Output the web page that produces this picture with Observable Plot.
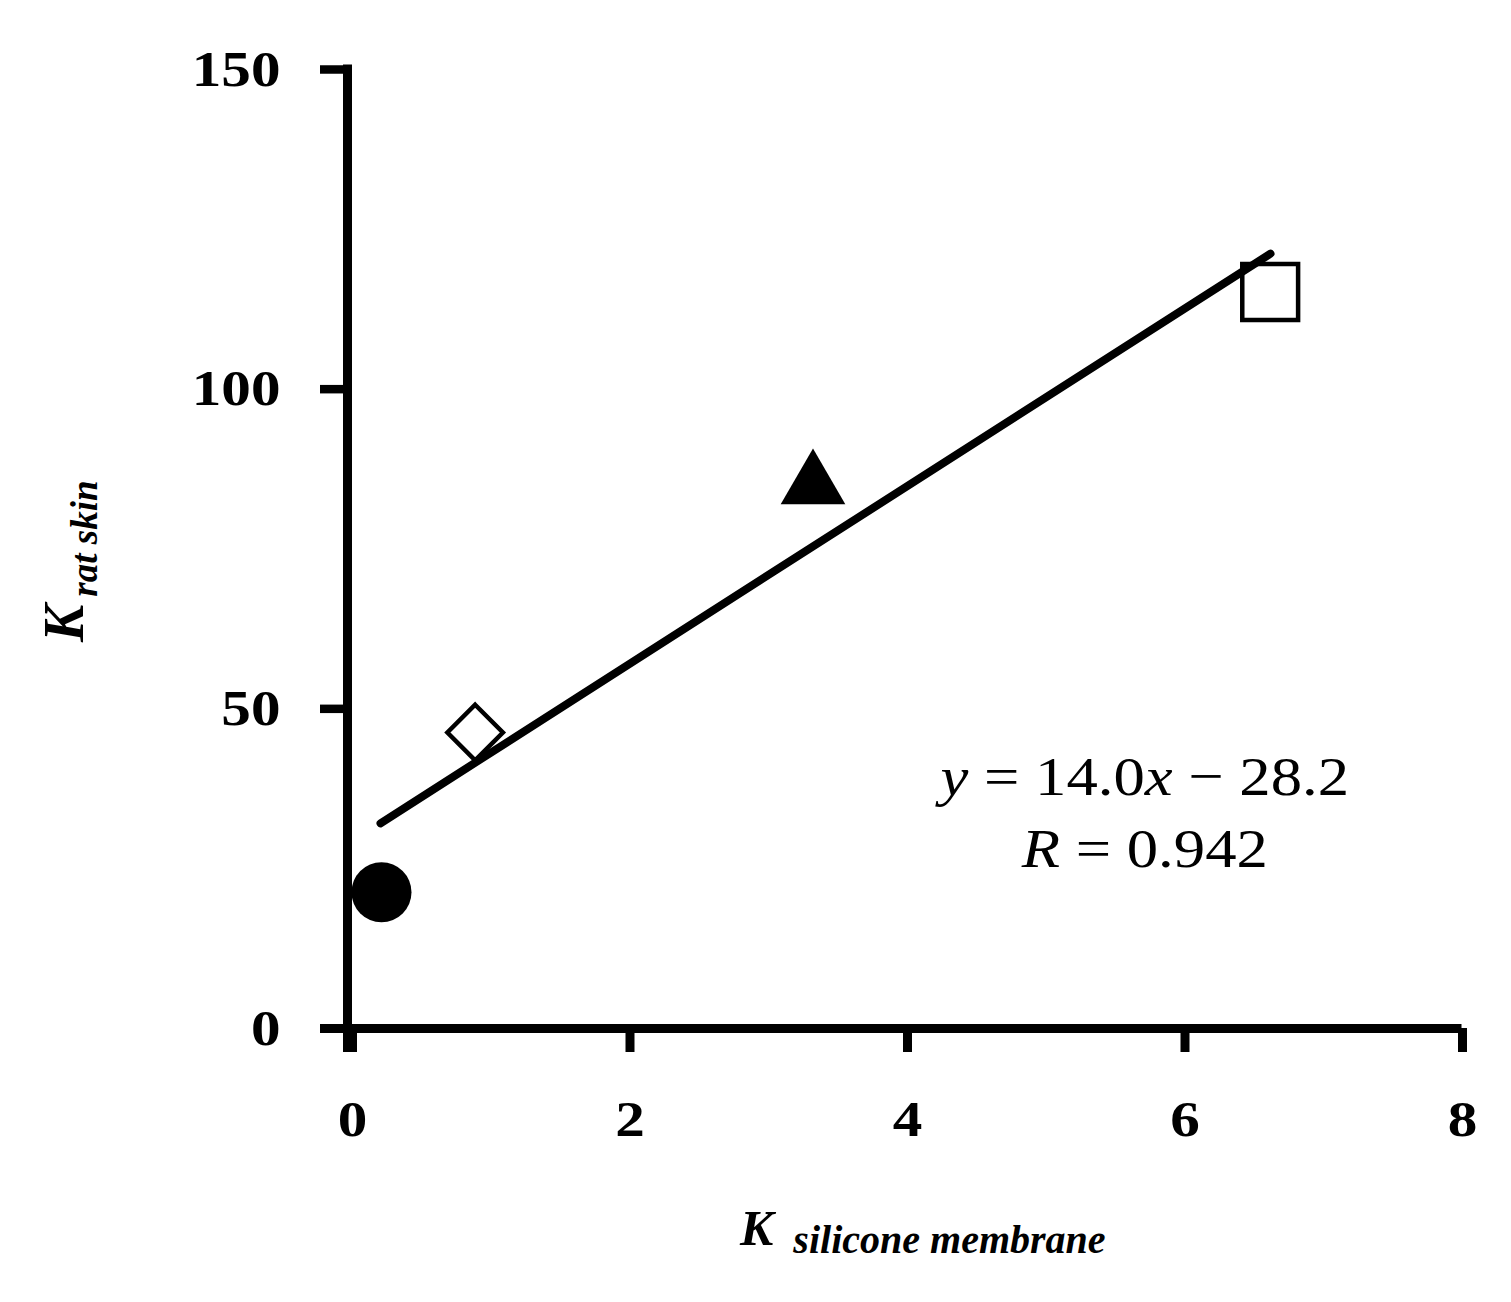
<!DOCTYPE html>
<html><head><meta charset="utf-8">
<script src="https://cdn.jsdelivr.net/npm/d3@7"></script>
<script src="https://cdn.jsdelivr.net/npm/@observablehq/plot@0.6"></script>
<style>body{margin:0;background:#fff} svg{display:block}</style>
</head><body><div id="chart"></div>
<script>
// Data
const pointX = [0.245, 0.92, 3.355, 6.65];
const pointY = [21.3, 46.3, 84.9, 115.2];
const pointSymbol = ["circle", "diamond2", "triangle", "square"];
const pointFilled = [true, false, true, false];
const fitX = [0.238, 6.652];
const fitY = [32.1, 121.2];
const xTicks = [0, 2, 4, 6, 8];
const yTicks = [0, 50, 100, 150];
const equationLine1 = [["y", true], [" = 14.0", false], ["x", true], [" \u2212 28.2", false]];
const equationLine2 = [["R", true], [" = 0.942", false]];
const equationAnchor = {x: 5.75, y: 36.4};

const points = pointX.map((x, i) => ({x, y: pointY[i], symbol: pointSymbol[i], filled: pointFilled[i]}));
const fit = fitX.map((x, i) => ({x, y: fitY[i]}));
const symbolR = {circle: 30, diamond2: 25, triangle: 24, square: 31.5};

const plot = Plot.plot({
  width: 1511, height: 1302,
  marginLeft: 347, marginRight: 54, marginTop: 69, marginBottom: 274,
  style: {fontFamily: "'Liberation Serif', 'Times New Roman', serif", background: "#fff", color: "#000"},
  x: {domain: [0, 8]},
  y: {domain: [0, 150]},
  marks: [
    Plot.axisY({ticks: yTicks, tickSize: 27, tickPadding: 40, strokeWidth: 8.5, fontSize: 51, fontWeight: "bold", label: null, tickFormat: d => String(d)}),
    Plot.axisX({ticks: xTicks, tickSize: 24, tickPadding: 47, strokeWidth: 9, fontSize: 51, fontWeight: "bold", label: null, dx: 5, tickFormat: d => String(d)}),
    Plot.ruleY([0], {stroke: "#000", strokeWidth: 9, insetLeft: -27, insetRight: -4.5}),
    Plot.ruleX([0], {stroke: "#000", strokeWidth: 9, insetTop: -4.5, insetBottom: -24}),
    ...points.map(p => Plot.dot([p], {
      x: "x", y: "y", symbol: p.symbol, r: symbolR[p.symbol],
      fill: p.filled ? "#000" : "#fff", stroke: p.filled ? "none" : "#000", strokeWidth: 4.5
    })),
    Plot.line(fit, {x: "x", y: "y", stroke: "#000", strokeWidth: 8, strokeLinecap: "round"})
  ]
});
document.getElementById("chart").appendChild(plot);

const svg = d3.select(plot);
const sx = plot.scale("x"), sy = plot.scale("y");
const serif = "'Liberation Serif', 'Times New Roman', serif";

// Widen tick labels horizontally, as in the reference
svg.selectAll("g[aria-label='x-axis tick label'] text, g[aria-label='y-axis tick label'] text")
  .attr("transform", function() { return (this.getAttribute("transform") || "") + " scale(1.16,1)"; });

// Equation annotation
const cx = sx.apply(equationAnchor.x);
const eq = svg.append("g").attr("font-family", serif).attr("font-size", 56).attr("text-anchor", "middle").attr("fill", "#000")
  .attr("transform", `translate(${cx},0) scale(1.12,1) translate(${-cx},0)`);
[[equationLine1, 0], [equationLine2, 72]].forEach(([parts, dy]) => {
  const t = eq.append("text").attr("x", cx).attr("y", sy.apply(equationAnchor.y) + dy);
  parts.forEach(([s, it]) => t.append("tspan").attr("font-style", it ? "italic" : "normal").text(s));
});

// X axis label
const xl = svg.append("text").attr("font-family", serif).attr("font-weight", "bold").attr("font-style", "italic")
  .attr("text-anchor", "start").attr("x", 740).attr("y", 1245).attr("fill", "#000");
xl.append("tspan").attr("font-size", 50).text("K");
xl.append("tspan").attr("font-size", 40).attr("dx", 20).attr("dy", 8).text("silicone membrane");

// Y axis label
const yl = svg.append("text").attr("font-family", serif).attr("font-weight", "bold").attr("font-style", "italic")
  .attr("text-anchor", "start").attr("transform", "translate(83,642) rotate(-90)").attr("fill", "#000");
yl.append("tspan").attr("font-size", 56).text("K");
yl.append("tspan").attr("font-size", 37).attr("dx", 8).attr("dy", 14).text("rat skin");
</script>
</body></html>
